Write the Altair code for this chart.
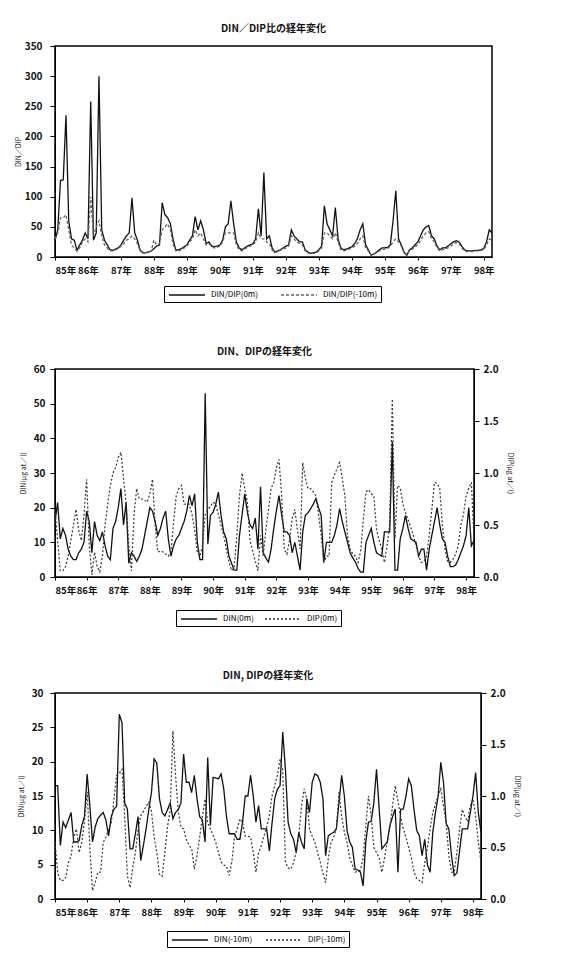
import altair as alt
import pandas as pd

FONT = "Noto Sans CJK JP"

# x axis: monthly index 0..159, one label per year
tick_labels = ["85年", "86年", "87年", "88年", "89年", "90年", "91年",
               "92年", "93年", "94年", "95年", "96年", "97年", "98年"]
months = list(range(160))

titles = ["DIN／DIP比の経年変化", "DIN、DIPの経年変化", "DIN, DIPの経年変化"]
series1 = ["DIN/DIP(0m)", "DIN/DIP(-10m)"]
series2 = ["DIN(0m)", "DIP(0m)"]
series3 = ["DIN(-10m)", "DIP(-10m)"]

ratio_0m = [28, 45, 127, 128, 235, 60, 30, 28, 11, 20, 28, 40,
            30, 258, 28, 40, 300, 45, 28, 20, 12, 11, 13, 15,
            20, 28, 35, 40, 98, 40, 28, 11, 7, 7, 8, 10,
            14, 18, 20, 90, 70, 65, 55, 28, 11, 12, 14, 17,
            20, 28, 35, 67, 45, 60, 45, 22, 25, 18, 17, 18,
            20, 28, 50, 55, 93, 55, 25, 15, 12, 15, 18, 20,
            22, 30, 80, 35, 140, 30, 35, 15, 8, 10, 12, 15,
            18, 20, 45, 35, 30, 25, 25, 12, 8, 6, 7, 8,
            12, 18, 85, 55, 45, 35, 82, 30, 15, 12, 13, 15,
            17, 22, 30, 45, 55, 20, 12, 3, 5, 8, 12, 15,
            15, 16, 20, 60, 110, 30, 20, 8, 3, 12, 15, 20,
            25, 35, 45, 50, 52, 35, 30, 18, 12, 15, 15, 18,
            22, 25, 27, 25, 18, 12, 10, 10, 10, 11, 11, 12,
            14, 25, 45, 40]

ratio_10m = [30, 40, 65, 65, 70, 45, 20, 15, 10, 15, 25, 30,
             25, 100, 35, 50, 60, 35, 20, 15, 10, 10, 12, 14,
             18, 22, 28, 30, 35, 30, 22, 10, 7, 7, 8, 10,
             28, 20, 22, 45, 50, 55, 45, 20, 10, 10, 12, 15,
             18, 25, 30, 45, 35, 40, 30, 20, 22, 18, 15, 16,
             18, 25, 40, 40, 40, 40, 20, 12, 10, 13, 16, 18,
             20, 25, 40, 30, 30, 25, 22, 12, 7, 9, 11, 13,
             15, 18, 35, 30, 25, 22, 20, 10, 7, 5, 6, 7,
             10, 15, 40, 40, 35, 30, 40, 25, 12, 10, 11, 13,
             15, 18, 22, 30, 35, 15, 10, 3, 5, 7, 10, 12,
             13, 14, 18, 25, 30, 25, 18, 7, 3, 10, 13, 17,
             20, 28, 35, 40, 42, 30, 25, 15, 10, 12, 13, 15,
             18, 22, 24, 22, 15, 10, 9, 9, 9, 10, 10, 11,
             12, 20, 30, 28]

din_0m = [16, 21.5, 11, 14, 12, 8, 6, 5, 5, 7, 8, 10,
          19, 16, 7, 16, 12, 10.5, 13, 9, 6, 5, 14, 16,
          20, 25.5, 15, 21.5, 4, 7, 6, 4.5, 6, 8, 12, 16,
          20, 19, 16, 12, 14, 17, 19, 11, 6, 9, 11, 12,
          14, 16, 19, 23.5, 20.6, 24, 10, 5, 5, 53, 9.5, 17.8,
          18.7, 21, 24.5, 17.8, 13, 11, 6, 4, 2, 2, 12, 18,
          24, 18.7, 15, 14, 17, 8, 26, 7, 5.5, 4.3, 8, 14,
          19, 23.5, 18, 13, 13, 12, 7, 10, 6, 2, 13, 17.8,
          18.5, 19.7, 21, 22.6, 20, 17.8, 4.3, 10, 10, 10, 12, 15,
          19.7, 16, 13, 10, 7, 5.5, 4.3, 2.5, 1.4, 1.4, 10, 12,
          14, 10, 7, 6.5, 6, 13, 13, 13, 39, 2, 2, 11,
          14, 17.8, 14, 11, 10.5, 10, 6, 8, 8, 2, 8, 12,
          16, 20, 15, 11, 10, 6, 3, 3, 3.4, 5, 7, 9,
          12, 20, 9, 10.5]

dip_0m = [0.65, 0.35, 0.06, 0.06, 0.1, 0.2, 0.35, 0.5, 0.65, 0.45, 0.35, 0.6,
          0.94, 0.3, 0.02, 0.24, 0.1, 0.05, 0.2, 0.5, 0.7, 0.88, 1.0, 1.05,
          1.15, 1.2, 0.95, 0.7, 0.3, 0.06, 0.6, 0.85, 0.75, 0.75, 0.74, 0.72,
          0.8, 0.94, 0.5, 0.24, 0.25, 0.24, 0.22, 0.2, 0.24, 0.53, 0.78, 0.85,
          0.88, 0.7, 0.7, 0.7, 0.6, 0.45, 0.24, 0.2, 0.3, 0.6, 0.65, 0.68,
          0.72, 0.7, 0.6, 0.5, 0.4, 0.27, 0.15, 0.06, 0.1, 0.4, 0.78, 1.0,
          0.85, 0.72, 0.35, 0.25, 0.15, 0.06, 0.4, 0.2, 0.45, 0.65, 0.85, 0.91,
          1.05, 1.13, 0.78, 0.27, 0.22, 0.35, 0.56, 0.65, 0.45, 0.27, 1.1, 0.95,
          0.85, 0.85, 0.82, 0.78, 0.6, 0.4, 0.14, 0.2, 0.2, 0.91, 0.98, 1.04,
          1.1, 0.95, 0.78, 0.4, 0.27, 0.22, 0.2, 0.14, 0.25, 0.55, 0.82, 0.84,
          0.8, 0.78, 0.46, 0.35, 0.27, 0.14, 0.3, 0.5, 1.71, 0.37, 0.88, 0.86,
          0.7, 0.62, 0.55, 0.48, 0.4, 0.3, 0.2, 0.14, 0.15, 0.2, 0.4, 0.65,
          0.91, 0.9, 0.85, 0.5, 0.27, 0.15, 0.14, 0.17, 0.22, 0.3, 0.5, 0.6,
          0.78, 0.85, 0.91, 0.37]

din_10m = [16.5, 16.5, 7.8, 11.2, 10.4, 11.5, 12.6, 8.3, 8.3, 8.5, 10.7, 12,
           18.2, 13.6, 8.3, 10.5, 11.7, 12.2, 12.6, 11.5, 9.2, 12, 13.1, 13.5,
           26.9, 25.7, 14, 13.1, 7.3, 7.3, 9.5, 12, 5.6, 7.8, 10.2, 13,
           15.5, 20.4, 19.8, 14.6, 12.6, 12.1, 13, 14, 11.7, 12.6, 13, 14,
           21.1, 17, 17, 15.5, 18, 14.6, 12, 11.5, 8.3, 20.6, 10.7, 17.7,
           17.6, 17.5, 18.2, 16, 12, 9.5, 9.5, 9.5, 8.7, 8.7, 11.2, 15,
           15, 18, 15, 11.2, 13.6, 10.2, 10.2, 10.2, 7, 11, 14.6, 16,
           16.5, 24.3, 18.9, 11.2, 9.5, 8.7, 6.8, 9.7, 8.3, 7.3, 14.6, 12.6,
           17, 18.2, 18, 17, 14.6, 6.3, 9.2, 9.5, 9.7, 10.2, 14, 18,
           15, 10, 8.3, 7.5, 4.4, 4.2, 3.9, 1.9, 8.3, 11.2, 11.3, 14,
           18.9, 13.1, 7.3, 7.8, 8.3, 10.7, 12, 13.1, 3.9, 13.1, 13.1, 15,
           17.5, 16.5, 13, 10, 9.2, 6.3, 8.7, 5, 3.9, 9.7, 12.6, 15,
           19.9, 17, 11, 10.2, 6.3, 3.4, 3.8, 7, 10.2, 10.2, 10.2, 12.6,
           15, 18.4, 12.6, 9.7]

dip_10m = [0.55, 0.26, 0.18, 0.18, 0.21, 0.35, 0.42, 0.6, 0.68, 0.45, 0.55, 0.76,
           1.04, 0.5, 0.08, 0.16, 0.26, 0.26, 0.55, 0.6, 0.68, 0.74, 0.97, 1.2,
           1.22, 1.26, 0.81, 0.23, 0.11, 0.3, 0.45, 0.68, 0.81, 0.85, 0.9, 0.94,
           0.85, 0.6, 0.45, 0.24, 0.22, 0.45, 0.7, 0.87, 1.63, 1.2, 0.85, 0.7,
           0.68, 0.58, 0.52, 0.49, 0.29, 0.42, 0.6, 0.8, 0.97, 0.74, 0.68, 0.62,
           0.55, 0.45, 0.36, 0.33, 0.32, 0.23, 0.36, 0.6, 0.68, 0.78, 0.74, 0.61,
           0.61, 0.6, 0.45, 0.26, 0.45, 0.52, 0.61, 0.7, 0.81, 1.0, 1.1, 1.2,
           1.36, 1.25, 0.36, 0.3, 0.29, 0.35, 0.45, 0.61, 0.9, 1.07, 0.97, 0.68,
           0.61, 0.55, 0.45, 0.36, 0.25, 0.16, 0.39, 0.55, 0.6, 0.68, 1.04, 0.8,
           0.65, 0.55, 0.4, 0.33, 0.26, 0.27, 0.28, 0.4, 0.7, 1.0, 0.81, 0.5,
           0.45, 0.4, 0.26, 0.4, 0.55, 0.7, 0.91, 1.1, 0.95, 0.8, 0.68, 0.6,
           0.5, 0.4, 0.26, 0.2, 0.18, 0.16, 0.35, 0.5, 0.68, 0.84, 0.92, 1.0,
           1.07, 0.9, 0.74, 0.42, 0.26, 0.26, 0.45, 0.68, 0.87, 0.8, 0.75, 0.9,
           0.97, 0.81, 0.55, 0.36]

label_expr = "[" + ",".join("'%s'" % t for t in tick_labels) + "][round(datum.value / 12)]"


def x_enc():
    return alt.X("i:Q",
                 scale=alt.Scale(domain=[0, 159], nice=False, zero=False),
                 axis=alt.Axis(values=list(range(0, 160, 12)), labelExpr=label_expr,
                               title=None, labelPadding=5, tickSize=3,
                               labelOverlap=False, labelFontSize=9.5))


def legend_spec(lx, ly, cpad):
    return alt.Legend(title=None, orient="none", legendX=lx, legendY=ly,
                      direction="horizontal", symbolType="M-3.6,0H3.6",
                      symbolSize=100, symbolStrokeWidth=1.4, symbolOffset=14,
                      labelFontSize=8, labelFont=FONT, columnPadding=cpad,
                      strokeColor="black", padding=3, labelOffset=18)


def dash_enc(names, dash, lx, ly, cpad):
    return alt.StrokeDash("s:N", scale=alt.Scale(domain=names, range=[[1, 0], dash]),
                          legend=legend_spec(lx, ly, cpad))


def color_enc(names, gray, lx, ly, cpad):
    return alt.Color("s:N", scale=alt.Scale(domain=names, range=["#111111", gray]),
                     legend=legend_spec(lx, ly, cpad))


def frame(names, a, b):
    return pd.DataFrame({"i": months * 2, "v": a + b,
                         "s": [names[0]] * len(a) + [names[1]] * len(b)})


# Panel 1
p1 = alt.Chart(frame(series1, ratio_0m, ratio_10m)).mark_line(strokeWidth=1.3).encode(
    x=x_enc(),
    y=alt.Y("v:Q", scale=alt.Scale(domain=[0, 350], nice=False),
            axis=alt.Axis(values=list(range(0, 351, 50)), title="DIN／DIP",
                          titlePadding=3, labelPadding=8)),
    strokeDash=dash_enc(series1, [3, 2], 109, 240, 20),
    color=color_enc(series1, "#666666", 109, 240, 20),
).properties(width=437, height=211, title=titles[0])


def dual(names, din, dip, lmax, lstep, lx, ly, cpad, w, h, title, ltitle, rtitle, lpad, tpad):
    df_n = pd.DataFrame({"i": months, "v": din, "s": names[0]})
    df_p = pd.DataFrame({"i": months, "v": dip, "s": names[1]})
    left = alt.Chart(df_n).mark_line(strokeWidth=1.3).encode(
        x=x_enc(),
        y=alt.Y("v:Q", scale=alt.Scale(domain=[0, lmax], nice=False),
                axis=alt.Axis(values=list(range(0, lmax + 1, lstep)), title=ltitle,
                              titlePadding=tpad, labelPadding=lpad)),
        strokeDash=dash_enc(names, [2, 2], lx, ly, cpad),
        color=color_enc(names, "#333333", lx, ly, cpad),
    )
    right = alt.Chart(df_p).mark_line(strokeWidth=1.2).encode(
        x=x_enc(),
        y=alt.Y("v:Q", scale=alt.Scale(domain=[0, 2], nice=False),
                axis=alt.Axis(orient="right", values=[0, 0.5, 1.0, 1.5, 2.0],
                              format=".1f", title=rtitle, titlePadding=8,
                              labelPadding=4)),
        strokeDash=dash_enc(names, [2, 2], lx, ly, cpad),
        color=color_enc(names, "#333333", lx, ly, cpad),
    )
    return alt.layer(left, right).resolve_scale(y="independent").properties(
        width=w, height=h, title=title)


p2 = dual(series2, din_0m, dip_0m, 60, 10, 121, 241, 8, 419, 208, titles[1],
          "DIN(μg at／l)", "DIP(μg at／l)", 5, 7)
p3 = dual(series3, din_10m, dip_10m, 30, 5, 112, 238, 10, 426, 206, titles[2],
          "DIN(μg at／l)", "DIP(μg at／l)", 7, 7)

chart = alt.vconcat(p1, p2, p3, spacing=42).resolve_scale(
    color="independent", strokeDash="independent"
).resolve_legend(
    color="independent", strokeDash="independent"
).properties(
    padding={"left": 5, "top": 15, "right": 5, "bottom": 5},
    background="white",
).configure_view(
    stroke="black", strokeWidth=1.5
).configure_axis(
    grid=False, labelFont=FONT, titleFont=FONT, labelFontSize=10, titleFontSize=7,
    labelColor="#111111", titleColor="#111111", titleFontWeight="normal",
    domainColor="black", tickColor="black", labelFontWeight="bold"
).configure_title(
    font=FONT, fontSize=10, fontWeight="bold", offset=7, color="#111111"
)

chart.save("out.html", embed_options={"renderer": "svg", "actions": False})
